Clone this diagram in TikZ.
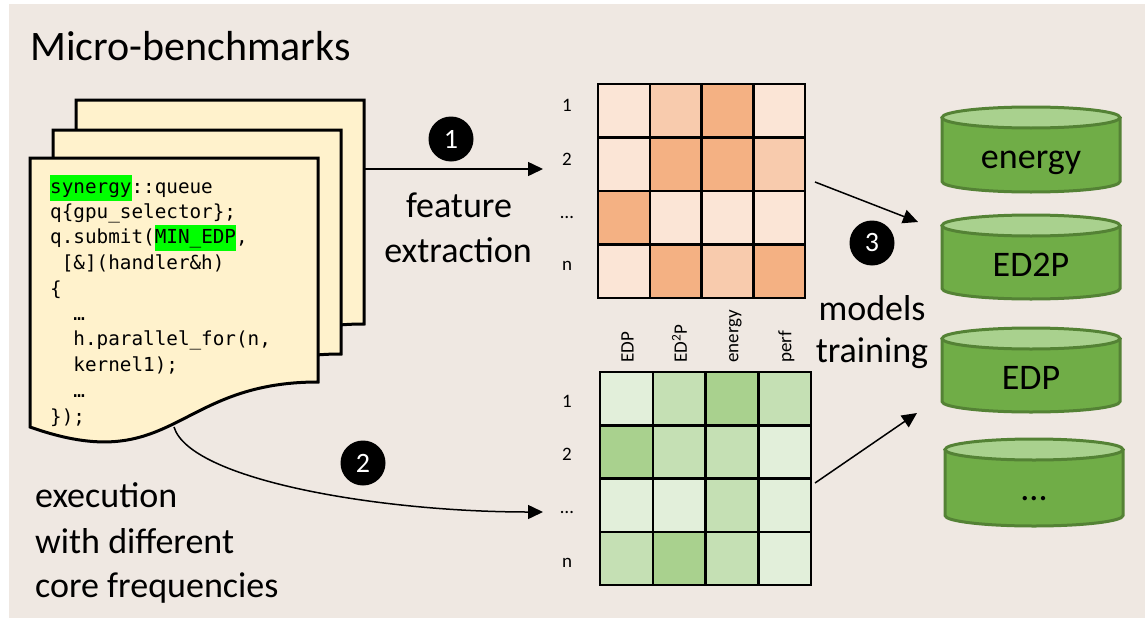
\documentclass[tikz,border=0pt]{standalone}
\usepackage{fontspec}
\setmainfont{Carlito}
\newfontfamily\codefont{DejaVu Sans Mono}
\usetikzlibrary{arrows.meta}

\definecolor{bgpanel}{HTML}{EFE8E2}
\definecolor{paper}{HTML}{FFF2CC}
\definecolor{hlgreen}{HTML}{00FF00}
\definecolor{orA}{HTML}{FBE5D6}
\definecolor{orB}{HTML}{F8CBAD}
\definecolor{orC}{HTML}{F4B183}
\definecolor{grA}{HTML}{E2EFDA}
\definecolor{grB}{HTML}{C5E0B4}
\definecolor{grC}{HTML}{A9D18E}
\definecolor{cylBody}{HTML}{70AD47}
\definecolor{cylTop}{HTML}{A9D18E}
\definecolor{cylEdge}{HTML}{548235}

% green marker behind code tokens
\newcommand{\hlbox}[1]{{\setlength{\fboxsep}{0pt}\colorbox{hlgreen}{\strut#1}}}

% database cylinder: name, left x, right x, top y, bottom y, text
\newcommand{\dbstore}[6]{%
  \pgfmathsetmacro\dbcx{(#2+#3)/2}%
  \pgfmathsetmacro\dbrx{(#3-#2)/2}%
  \pgfmathsetmacro\dbkx{0.5523*\dbrx}%
  \pgfmathsetmacro\dbcl{\dbcx-\dbkx}%
  \pgfmathsetmacro\dbcr{\dbcx+\dbkx}%
  \pgfmathsetmacro\dbtop{#4+10.5}%
  \pgfmathsetmacro\dbbot{#5-10.5}%
  \pgfmathsetmacro\dbbk{\dbbot+5.8}%
  \pgfmathsetmacro\dbty{#4+61}%
  \fill[cylBody] (#2,\dbtop) -- (#2,\dbbot) .. controls (#2,\dbbk) and (\dbcl,#5) .. (\dbcx,#5)
     .. controls (\dbcr,#5) and (#3,\dbbk) .. (#3,\dbbot) -- (#3,\dbtop) -- cycle;
  \draw[cylline] (#2,\dbtop) -- (#2,\dbbot) .. controls (#2,\dbbk) and (\dbcl,#5) .. (\dbcx,#5)
     .. controls (\dbcr,#5) and (#3,\dbbk) .. (#3,\dbbot) -- (#3,\dbtop);
  \draw[cylline, fill=cylTop] (\dbcx,\dbtop) ellipse [x radius=\dbrx, y radius=10.5];
  \node[cyltext] (#1) at (\dbcx,\dbty) {#6};
}

\tikzset{
  pagestyle/.style={draw=black, fill=paper, line width=3pt},
  codeline/.style={anchor=base west, inner sep=0pt, font=\codefont\fontsize{19.3}{25.6}\selectfont},
  bigtext/.style={inner sep=0pt, font=\fontsize{36}{44}\selectfont},
  titletext/.style={inner sep=0pt, anchor=base west, font=\fontsize{42}{50}\selectfont},
  rowlbl/.style={inner sep=0pt, anchor=base, font=\fontsize{19}{23}\selectfont},
  collbl/.style={inner sep=0pt, anchor=west, rotate=90, font=\fontsize{19}{23}\selectfont},
  fcell/.style={draw=black, line width=2.5pt, inner sep=0pt, outer sep=0pt, anchor=north west,
                minimum width=51.75pt, minimum height=53.5pt},
  mcell/.style={draw=black, line width=2.5pt, inner sep=0pt, outer sep=0pt, anchor=north west,
                minimum width=52.75pt, minimum height=53.25pt},
  stepdot/.style={circle, fill=black, minimum size=45pt, inner sep=0pt, text=white,
                  font=\fontsize{28}{30}\selectfont},
  flow/.style={line width=1.5pt, -{Triangle[length=15pt,width=14pt]}},
  cylline/.style={draw=cylEdge, line width=3pt},
  cyltext/.style={inner sep=0pt, anchor=base, font=\fontsize{36}{44}\selectfont},
}

\begin{document}
\begin{tikzpicture}[x=1pt,y=-1pt]
\useasboundingbox (0,0) rectangle (1145,618);
\fill[bgpanel] (9,4) rectangle (1145,618);

\node[titletext] (title) at (30,60) {Micro-benchmarks};

% stack of source files
\foreach \dx/\dy in {46/-58, 23/-28, 0/0}
  \draw[pagestyle, shift={(\dx,\dy)}] (30,158) -- (318,158) -- (318,382)
     .. controls (174,382) and (174,478) .. (30,427) -- cycle;

% source code on the front file
\node[codeline] (c1) at (50,193) {\hlbox{synergy}::queue};
\node[codeline] (c2) at (50,218) {q\{gpu\_selector\};};
\node[codeline] (c3) at (50,243) {q.submit(\hlbox{MIN\_EDP},};
\node[codeline] (c4) at (50,269) {\phantom{x}[\&](handler\&h)};
\node[codeline] (c5) at (50,295) {\{};
\node[codeline] (c6) at (50,320) {\phantom{xx}…};
\node[codeline] (c7) at (50,345) {\phantom{xx}h.parallel\_for(n,};
\node[codeline] (c8) at (50,371) {\phantom{xx}kernel1);};
\node[codeline] (c9) at (50,397) {\phantom{xx}…};
\node[codeline] (c10) at (50,423) {\});};

% execution label
\node[bigtext, anchor=base west] (ex1) at (35,507) {execution};
\node[bigtext, anchor=base west] (ex2) at (35,553) {with different};
\node[bigtext, anchor=base west] (ex3) at (35,597) {core frequencies};

% feature matrix
\foreach \c [count=\i from 0] in {orA,orB,orC,orA, orA,orC,orC,orB, orC,orA,orA,orA, orA,orC,orB,orC} {
  \pgfmathtruncatemacro\cc{mod(\i,4)}
  \pgfmathtruncatemacro\rr{div(\i,4)}
  \pgfmathsetmacro\px{598+\cc*51.75}
  \pgfmathsetmacro\py{84+\rr*53.5}
  \node[fcell, fill=\c] (f-\rr-\cc) at (\px,\py) {};
}
\node[rowlbl] (fr1) at (567,111) {1};
\node[rowlbl] (fr2) at (567,165) {2};
\node[rowlbl] (fr3) at (567,218) {…};
\node[rowlbl] (fr4) at (567,270) {n};

% measurement matrix
\foreach \c [count=\i from 0] in {grA,grB,grC,grB, grC,grB,grB,grA, grA,grA,grB,grA, grB,grC,grB,grA} {
  \pgfmathtruncatemacro\cc{mod(\i,4)}
  \pgfmathtruncatemacro\rr{div(\i,4)}
  \pgfmathsetmacro\px{600+\cc*52.75}
  \pgfmathsetmacro\py{372+\rr*53.25}
  \node[mcell, fill=\c] (m-\rr-\cc) at (\px,\py) {};
}
\node[rowlbl] (mr1) at (567,407) {1};
\node[rowlbl] (mr2) at (567,460) {2};
\node[rowlbl] (mr3) at (567,513) {…};
\node[rowlbl] (mr4) at (567,567) {n};
\node[collbl] (h1) at (627.5,363) {EDP};
\node[collbl] (h2) at (679.5,363) {ED\textsuperscript{2}P};
\node[collbl] (h3) at (735.5,363) {energy};
\node[collbl] (h4) at (786.5,363) {perf};

% trained models
\dbstore{dbE}{942}{1120}{107}{192}{energy}
\dbstore{dbEDD}{942}{1120}{215}{299}{ED2P}
\dbstore{dbED}{942}{1120}{328}{412}{EDP}
\dbstore{dbMore}{945}{1123}{439}{526}{...}

% step 1: feature extraction
\coordinate (srcOut) at (365,169);
\coordinate (featIn) at (543,169);
\draw[flow] (srcOut) -- (featIn);
\node[stepdot] (s1) at (451,139) {1};
\node[bigtext, anchor=base] (fe1) at (459,217) {feature};
\node[bigtext, anchor=base] (fe2) at (458,262) {extraction};

% step 2: execution
\coordinate (runOut) at (174,427);
\coordinate (measIn) at (543,512);
\draw[flow] (runOut) .. controls (190,480) and (380,512) .. (measIn);
\node[stepdot] (s2) at (363,463) {2};

% step 3: model training
\coordinate (featOut) at (815,182);
\coordinate (modelInA) at (918,222);
\coordinate (measOut) at (815,483);
\coordinate (modelInB) at (917,413);
\draw[flow] (featOut) -- (modelInA);
\draw[flow] (measOut) -- (modelInB);
\node[stepdot] (s3) at (872,243) {3};
\node[bigtext, anchor=base] (mt1) at (872,320) {models};
\node[bigtext, anchor=base] (mt2) at (872,362) {training};
\end{tikzpicture}
\end{document}
